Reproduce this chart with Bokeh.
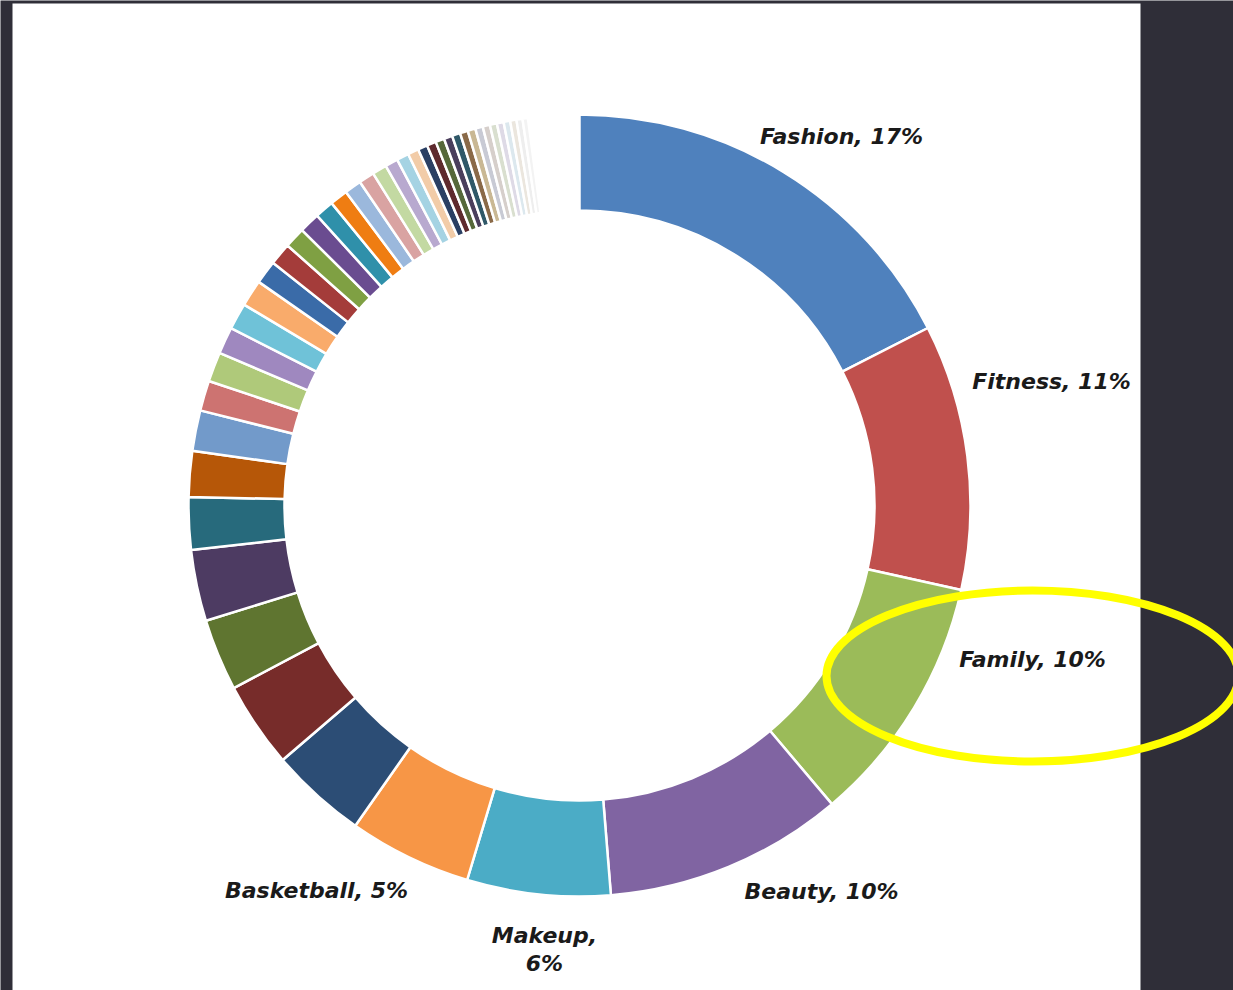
import numpy as np
from bokeh.plotting import figure
from bokeh.models import ColumnDataSource, Range1d, BoxAnnotation
from bokeh.embed import file_html
from bokeh.resources import INLINE
from bokeh.core.properties import value

# ---------------- data ----------------
categories = ["Fashion", "Fitness", "Family", "Beauty", "Makeup", "Basketball"]
category_shares = [17.5, 10.97, 10.36, 9.89, 5.92, 5.08]
label_texts = ["Fashion, 17%", "Fitness, 11%", "Family, 10%", "Beauty, 10%",
               "Makeup,\n6%", "Basketball, 5%"]
category_colors = ["#4F81BD", "#C0504D", "#9BBB59", "#8064A2", "#4BACC6", "#F79646"]

# unlabeled smaller categories (percent of total)
minor_shares = [4.0, 3.55, 2.97, 2.94, 2.17, 1.89,
                1.67, 1.25, 1.22, 1.11, 1.1, 1.1,
                0.97, 0.92, 0.86, 0.85, 0.78, 0.74,
                0.70, 0.64, 0.60, 0.53, 0.50, 0.45,
                0.40, 0.38, 0.36, 0.35, 0.34, 0.33,
                0.32, 0.31, 0.30, 0.29, 0.28, 0.27, 0.26, 0.25, 0.22]
minor_colors = ["#2C4D75", "#772C2A", "#5F7530", "#4D3B62", "#276A7C", "#B65708",
                "#729ACA", "#CD7371", "#AFC97A", "#9F88BF", "#6FC2D8", "#F9AB6B",
                "#3A6BA8", "#A43C3A", "#7FA043", "#6A4C90", "#2F90AA", "#EF7D12",
                "#9BB8DC", "#D9A3A2", "#C3D9A2", "#B8A9CF", "#A5D3E3", "#F2CCA8",
                "#2A3F63", "#5E2A2E", "#56683A", "#4A3E5C", "#2F5868", "#8A6A48",
                "#C9B894", "#C8CAD4", "#D6CFCB", "#D9DFCF", "#DEDAE6", "#DCE8EE",
                "#EBE6DE", "#EEEEEE", "#F3F3F3"]
TOTAL = 100.0

# ---------------- layout constants ----------------
CX, CY = 579, -505
R_OUT, R_IN = 391, 295
LABEL_POS = [(841, -136), (1051, -381), (1032, -659), (821, -891), (544, -949), (316, -890)]
HIGHLIGHT = dict(x=1032, y=-675.5, w=412, h=171)
BG = "#2f2e38"

shares = np.array(category_shares + minor_shares)
colors = category_colors + minor_colors
cum = np.concatenate([[0.0], np.cumsum(shares)])
start = np.pi / 2 - 2 * np.pi * cum[:-1] / TOTAL
end = np.pi / 2 - 2 * np.pi * cum[1:] / TOTAL

src = ColumnDataSource(dict(start=start, end=end, color=colors))

p = figure(width=1233, height=990, x_range=Range1d(0, 1233), y_range=Range1d(-990, 0),
           x_axis_type=None, y_axis_type=None, toolbar_location=None,
           output_backend="svg", min_border=0,
           background_fill_color=BG, border_fill_color=BG, outline_line_color=None)
p.grid.visible = False

p.add_layout(BoxAnnotation(left=12, right=1140, bottom=-990, top=-3,
                           fill_color="white", fill_alpha=1.0, line_color=None,
                           level="underlay"))

p.annular_wedge(x=CX, y=CY, inner_radius=R_IN, outer_radius=R_OUT,
                start_angle="start", end_angle="end", direction="clock",
                fill_color="color", line_color="white", line_width=2.5, source=src)

lsrc = ColumnDataSource(dict(x=[xy[0] for xy in LABEL_POS], y=[xy[1] for xy in LABEL_POS],
                             text=label_texts))
p.text(x="x", y="y", text="text", source=lsrc, text_font=value("DejaVu Sans"),
       text_font_style="bold italic", text_font_size="22px", text_color="#1a1a1a",
       text_align="center", text_baseline="middle", text_line_height=1.15)

p.ellipse(x=[HIGHLIGHT["x"]], y=[HIGHLIGHT["y"]], width=HIGHLIGHT["w"], height=HIGHLIGHT["h"],
          fill_color=None, line_color="#FFFF00", line_width=8)

html = file_html(p, INLINE)
html = html.replace("<body>", '<body style="background-color:%s">' % BG, 1)
open("out.html", "w").write(html)
